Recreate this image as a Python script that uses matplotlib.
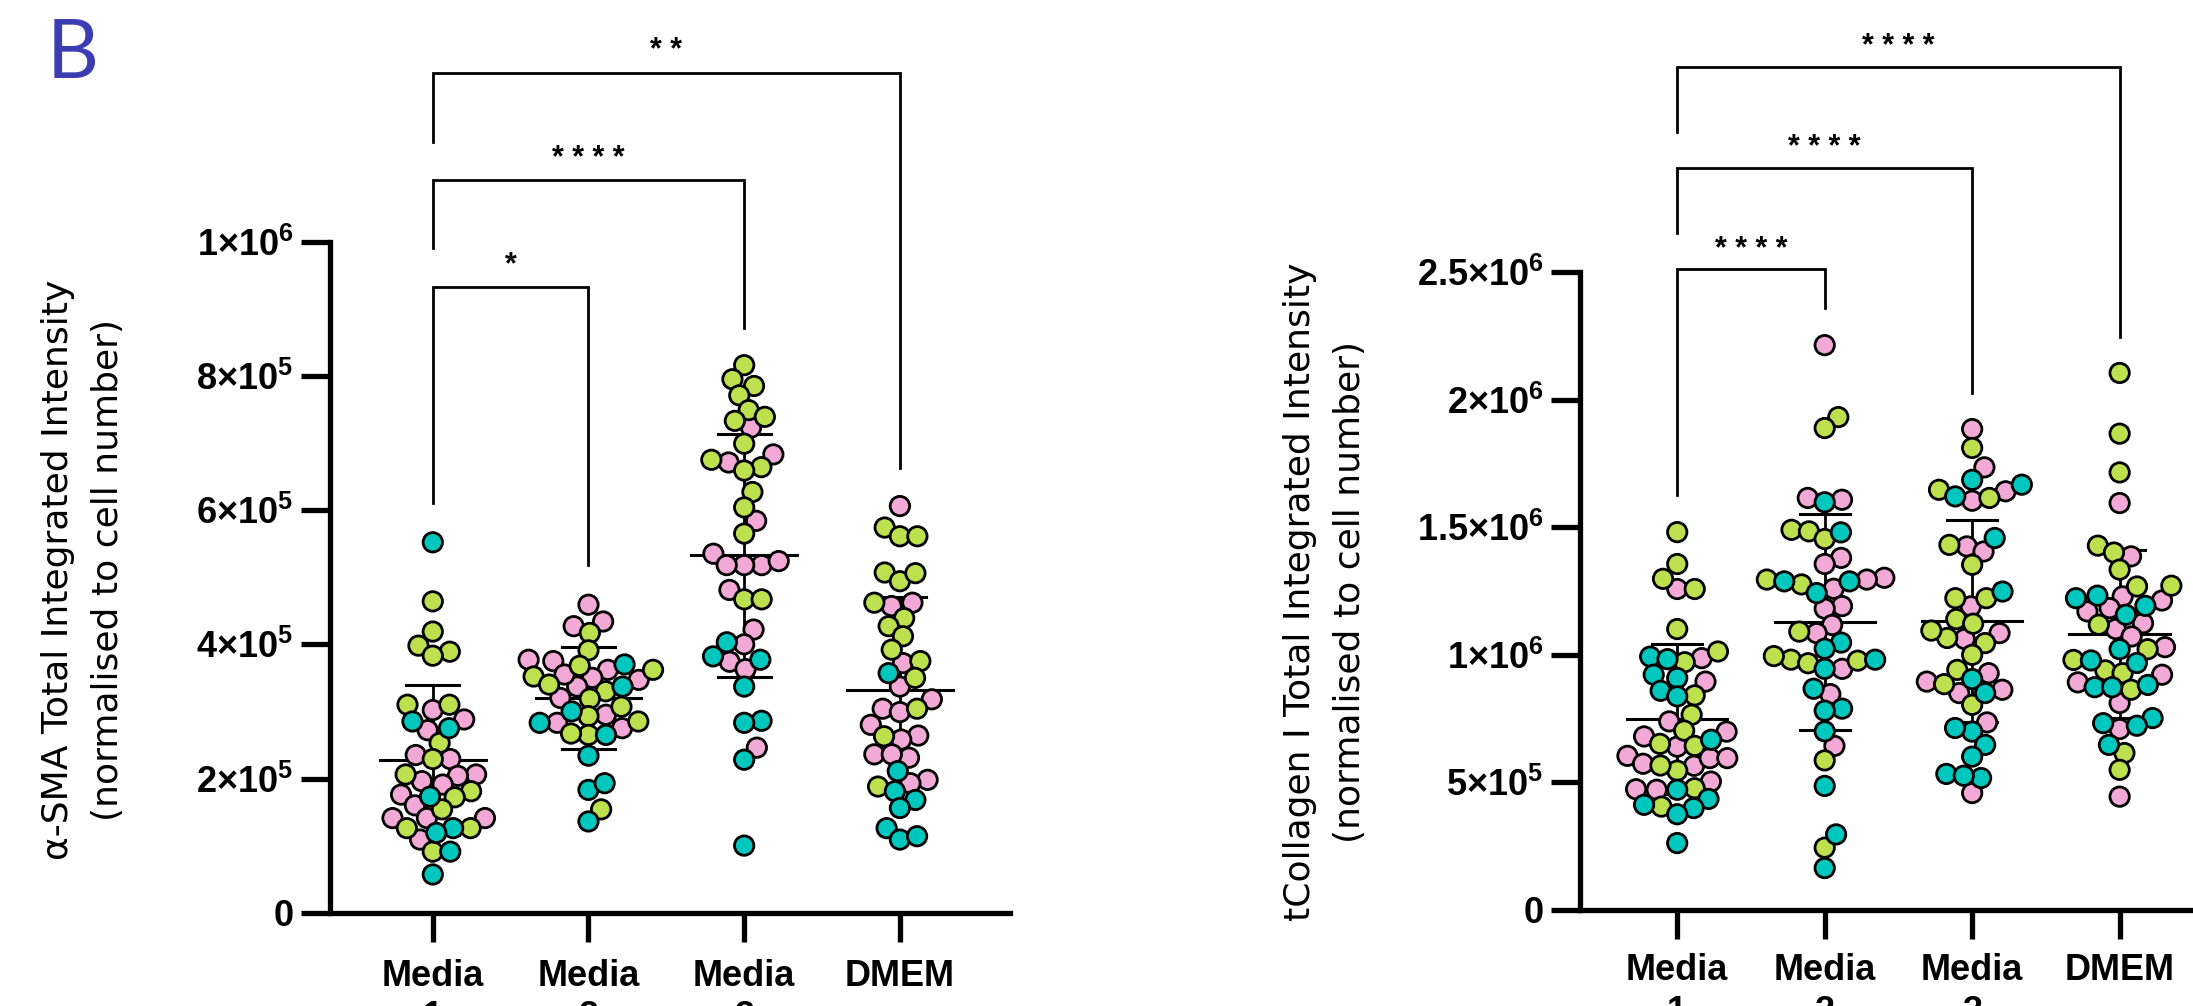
import numpy as np
import matplotlib.pyplot as plt

plt.rcParams.update({
    "font.family": "Liberation Sans",
    "mathtext.fontset": "custom",
    "mathtext.rm": "Liberation Sans:bold",
    "mathtext.bf": "Liberation Sans:bold",
    "mathtext.it": "Liberation Sans:bold",
})

categories = ["Media\n1", "Media\n2", "Media\n3", "DMEM"]
PINK, GREEN, TEAL = "#f2a9d6", "#bde04f", "#00c7bd"

# alpha-SMA, values in thousands, one list per group
sma_pink = [
    [302, 288, 272, 229, 235, 206, 196, 204, 191, 176, 160, 141, 141, 141, 109],
    [459, 427, 434, 362, 377, 375, 350, 337, 347, 295, 283, 275, 355, 320],
    [723, 671, 683, 584, 535, 518, 518, 518, 524, 481, 422, 400, 374, 363, 246],
    [606, 457, 462, 372, 337, 318, 304, 299, 280, 264, 258, 236, 231, 236, 198, 193],
]
sma_green = [
    [464, 419, 398, 389, 383, 310, 310, 253, 229, 206, 181, 172, 154, 126, 126, 91],
    [417, 391, 362, 368, 352, 340, 330, 319, 307, 293, 285, 265, 267, 154],
    [816, 785, 795, 771, 749, 733, 739, 699, 675, 664, 659, 627, 604, 565, 467, 467],
    [574, 561, 561, 507, 494, 506, 462, 439, 427, 412, 392, 375, 350, 304, 263, 188],
]
sma_teal = [
    [552, 285, 275, 173, 126, 119, 91, 57],
    [370, 337, 283, 265, 234, 183, 193, 136, 300],
    [403, 377, 382, 337, 286, 283, 228, 100],
    [357, 211, 181, 168, 156, 126, 109, 114],
]
sma_mean = [228, 320, 533, 332]
sma_sd = [112, 76, 181, 139]

# tCollagen I, values in thousands
col_pink = [
    [1258, 987, 895, 739, 699, 680, 640, 604, 573, 565, 595, 595, 503, 473, 471],
    [2214, 1608, 1615, 1380, 1356, 1302, 1295, 1259, 1191, 1181, 1117, 1085, 945, 846, 643],
    [1885, 1735, 1641, 1604, 1425, 1405, 1190, 1085, 1062, 895, 928, 863, 850, 735, 458],
    [1595, 1386, 1229, 1213, 1183, 1170, 1124, 1101, 1072, 1030, 922, 892, 811, 709, 444],
]
col_green = [
    [1481, 1356, 1298, 1258, 1101, 1013, 971, 841, 765, 703, 651, 643, 546, 566, 477, 405],
    [1932, 1889, 1490, 1484, 1454, 1295, 1276, 1091, 977, 981, 967, 995, 586, 244],
    [1811, 1647, 1615, 1431, 1353, 1222, 1222, 1140, 1122, 1066, 1095, 1046, 1000, 941, 885, 804],
    [2105, 1867, 1715, 1428, 1401, 1334, 1268, 1271, 1118, 1022, 980, 939, 928, 863, 615, 549],
]
col_teal = [
    [993, 983, 909, 922, 859, 837, 667, 471, 435, 412, 399, 375, 262],
    [1598, 1480, 1288, 1288, 1242, 1048, 1024, 981, 945, 867, 789, 781, 700, 486, 296, 164],
    [1686, 1667, 1621, 1458, 1248, 905, 850, 699, 713, 647, 601, 533, 517, 526],
    [1232, 1192, 1222, 1157, 1022, 978, 968, 873, 873, 882, 752, 732, 722, 647],
]
col_mean = [748, 1128, 1131, 1081]
col_sd = [294, 424, 396, 328]

# significance brackets: (group a, group b, label, bar level, left leg end, right leg end, label baseline), thousands
sma_sig = [
    (0, 1, "*", 933, 611, 518, 953),
    (0, 2, "* * * *", 1092, 991, 871, 1112),
    (0, 3, "* *", 1252, 1149, 663, 1272),
]
col_sig = [
    (0, 1, "* * * *", 2511, 1625, 2358, 2557),
    (0, 2, "* * * *", 2907, 2655, 2025, 2955),
    (0, 3, "* * * *", 3306, 3051, 2247, 3351),
]

sma_ticks = [0, 200e3, 400e3, 600e3, 800e3, 1e6]
sma_ticklabels = ["0", "2×10$^{5}$", "4×10$^{5}$", "6×10$^{5}$", "8×10$^{5}$", "1×10$^{6}$"]
col_ticks = [0, 500e3, 1e6, 1.5e6, 2e6, 2.5e6]
col_ticklabels = ["0", "5×10$^{5}$", "1×10$^{6}$", "1.5×10$^{6}$", "2×10$^{6}$", "2.5×10$^{6}$"]


def swarm(ax, xc, vals, d):
    y = ax.transData.transform(np.column_stack([np.full(len(vals), xc), vals]))[:, 1]
    xs = np.zeros(len(vals))
    done = []
    for i in np.argsort(y):
        cands = [0.0]
        for j in done:
            dy = y[i] - y[j]
            if abs(dy) < d:
                dx = np.sqrt(d * d - dy * dy)
                cands += [xs[j] + dx, xs[j] - dx]
        cands.sort(key=abs)
        for c in cands:
            if all((c - xs[j]) ** 2 + (y[i] - y[j]) ** 2 >= d * d - 1e-6 for j in done):
                xs[i] = c
                break
        done.append(i)
    unit = ax.transData.transform((1, 0))[0] - ax.transData.transform((0, 0))[0]
    return xc + xs / unit


def panel(ax, pink, green, teal, mean, sd, ymax, ticks, ticklabels, sig, xpad):
    ax.set_xlim(-0.662, 3.707)
    ax.set_ylim(0, ymax)
    for g in range(4):
        vals = np.array(pink[g] + green[g] + teal[g]) * 1e3
        cols = [PINK] * len(pink[g]) + [GREEN] * len(green[g]) + [TEAL] * len(teal[g])
        xs = swarm(ax, g, vals, 17.5)
        ax.scatter(xs, vals, s=195, c=cols, edgecolors="black", linewidths=2, zorder=3, clip_on=False)
        m, s = mean[g] * 1e3, sd[g] * 1e3
        ax.plot([g - 0.34, g + 0.34], [m, m], color="black", lw=2.2, zorder=2)
        ax.plot([g, g], [m - s, m + s], color="black", lw=2, zorder=2)
        for v in (m - s, m + s):
            ax.plot([g - 0.17, g + 0.17], [v, v], color="black", lw=2.2, zorder=2)
    for a, b, lab, top, la, lb, ty in sig:
        ax.plot([a, a, b, b], [la * 1e3, top * 1e3, top * 1e3, lb * 1e3], color="black",
                lw=2, clip_on=False, solid_joinstyle="miter")
        ax.text((a + b) / 2, ty * 1e3, lab, ha="center", va="baseline", fontsize=22, fontweight="bold")
    for side in ("top", "right"):
        ax.spines[side].set_visible(False)
    for side in ("left", "bottom"):
        ax.spines[side].set_linewidth(3.8)
    ax.set_yticks(ticks)
    ax.set_yticklabels(ticklabels)
    ax.set_xticks(range(4))
    ax.set_xticklabels(categories, fontweight="bold", linespacing=1.25)
    ax.tick_params(axis="both", length=21, width=3.8, labelsize=26)
    ax.tick_params(axis="y", pad=5)
    ax.tick_params(axis="x", pad=xpad)
    for lab in ax.get_yticklabels():
        lab.set_fontweight("bold")


fig = plt.figure(figsize=(21.93, 10.06), dpi=100)
ax1 = fig.add_axes([0.15034, 0.09274, 0.3102, 0.667])
ax2 = fig.add_axes([0.72029, 0.09553, 0.2938, 0.6339])

panel(ax1, sma_pink, sma_green, sma_teal, sma_mean, sma_sd, 1e6, sma_ticks, sma_ticklabels, sma_sig, 12)
panel(ax2, col_pink, col_green, col_teal, col_mean, col_sd, 2.5e6, col_ticks, col_ticklabels, col_sig, 10)

fig.text(83 / 2193, 1 - 570 / 1006, "α-SMA Total Integrated Intensity\n(normalised to cell number)",
         rotation=90, ha="center", va="center", fontsize=26, family="DejaVu Sans", linespacing=1.6)
fig.text(1325 / 2193, 1 - 592 / 1006, "tCollagen I Total Integrated Intensity\n(normalised to cell number)",
         rotation=90, ha="center", va="center", fontsize=26, family="DejaVu Sans", linespacing=1.6)
fig.text(47 / 2193, 1 - 18 / 1006, "B", ha="left", va="top", fontsize=58, color="#3d3db3", family="Lato")

fig.savefig("out.png", dpi=100)
